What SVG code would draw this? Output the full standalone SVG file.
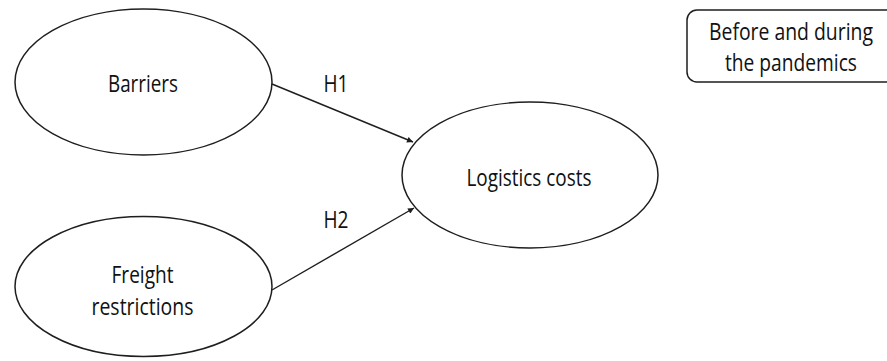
<svg xmlns="http://www.w3.org/2000/svg" width="887" height="361" viewBox="0 0 887 361">
<style>
.node{fill:#fff;stroke:#1e1e1e;stroke-width:1.5}
.t{font-family:"Open Sans","Noto Sans",sans-serif;font-size:23px;fill:#111;text-anchor:middle}
.edge{stroke:#1e1e1e;stroke-width:1.4;fill:none}
</style>
<defs>
<marker id="arr" viewBox="0 0 10 10" refX="10" refY="5" markerWidth="7" markerHeight="6" markerUnits="userSpaceOnUse" orient="auto">
<path d="M0,0 L10,5 L0,10 z" fill="#1e1e1e"/>
</marker>
</defs>
<rect width="887" height="361" fill="#fff"/>
<g id="edges">
<line class="edge" x1="272" y1="84" x2="413" y2="142" marker-end="url(#arr)"/>
<line class="edge" x1="272" y1="290" x2="414" y2="208" marker-end="url(#arr)"/>
<text class="t" x="336" y="92" textLength="25" lengthAdjust="spacingAndGlyphs">H1</text>
<text class="t" x="336" y="228" textLength="25" lengthAdjust="spacingAndGlyphs">H2</text>
</g>
<g id="barriers">
<ellipse class="node" cx="143.5" cy="82" rx="128.5" ry="73"/>
<text class="t" x="143" y="92" textLength="70" lengthAdjust="spacingAndGlyphs">Barriers</text>
</g>
<g id="freight">
<ellipse class="node" cx="143.5" cy="286.5" rx="128.5" ry="70"/>
<text class="t" x="142.5" y="283" textLength="62" lengthAdjust="spacingAndGlyphs">Freight</text>
<text class="t" x="142.5" y="315" textLength="102" lengthAdjust="spacingAndGlyphs">restrictions</text>
</g>
<g id="logistics">
<ellipse class="node" cx="530" cy="175" rx="128" ry="73"/>
<text class="t" x="529" y="186" textLength="125" lengthAdjust="spacingAndGlyphs">Logistics costs</text>
</g>
<g id="period">
<rect class="node" x="687" y="10" width="210" height="72" rx="10" ry="10"/>
<text class="t" x="791" y="40" textLength="164" lengthAdjust="spacingAndGlyphs">Before and during</text>
<text class="t" x="791" y="71" textLength="132" lengthAdjust="spacingAndGlyphs">the pandemics</text>
</g>
</svg>
